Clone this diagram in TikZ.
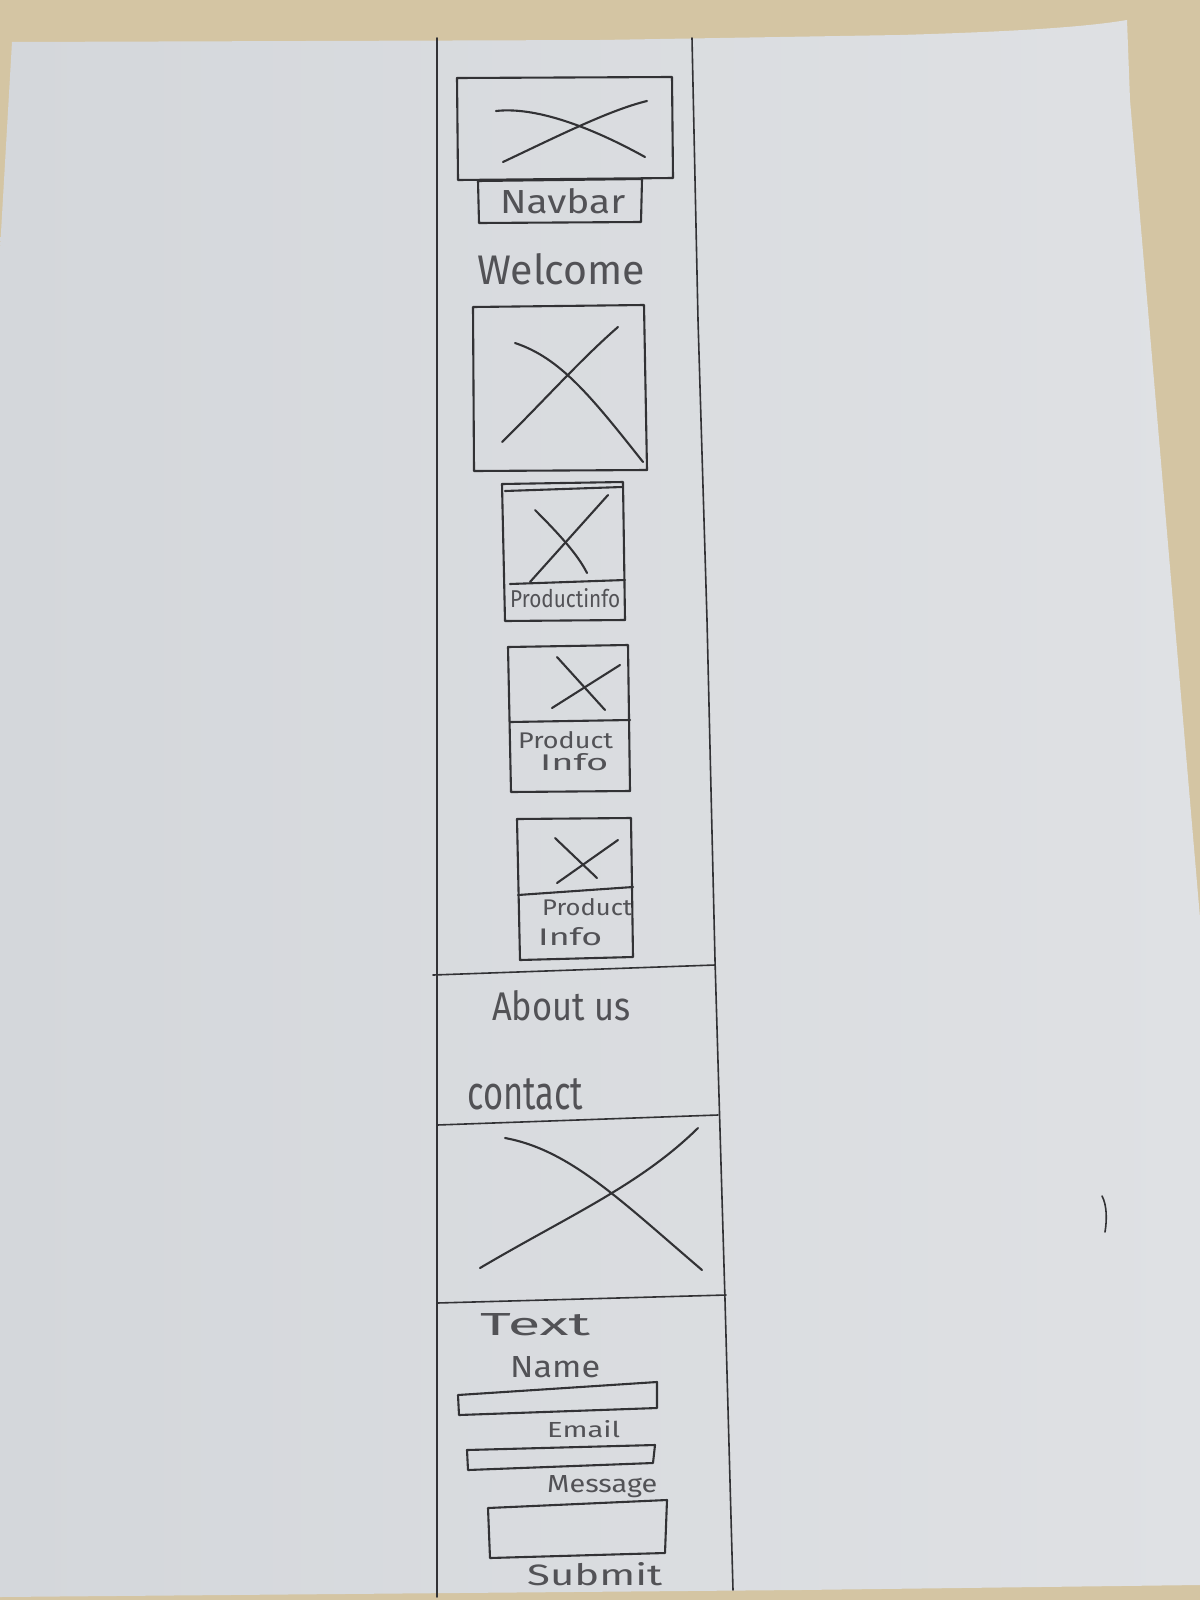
\documentclass[tikz,border=0pt]{standalone}
\usepackage{fontspec}
\setmainfont{Fira Sans}
\usepackage{graphicx}
\definecolor{tablec}{RGB}{212,197,163}
\definecolor{paperc}{RGB}{223,225,228}
\definecolor{paperd}{RGB}{212,215,219}
\definecolor{pencil}{RGB}{50,50,53}
\definecolor{ink}{RGB}{82,82,86}
% handwritten-like label: width, height above baseline, text
\newcommand{\hw}[3]{\resizebox{#1pt}{#2pt}{#3}}
\begin{document}
\begin{tikzpicture}[x=1pt,y=-1pt,
  sk/.style={draw=pencil,line width=2.1pt,line join=round,line cap=round},
  colline/.style={draw=pencil,line width=1.6pt,line join=round,line cap=round},
  lbl/.style={text=ink,inner sep=0pt,anchor=base west}]
\useasboundingbox (0,0) rectangle (1200,1600);
% table
\fill[tablec] (0,0) rectangle (1200,1600);
% paper sheet
\shade[left color=paperd,right color=paperc] (12,42) -- (600,40) -- (900,35) .. controls (1000,32) and (1080,28) .. (1127,20)
  -- (1130,100) -- (1200,918) -- (1200,1585) -- (800,1590) -- (0,1597) -- (0,250) -- cycle;
% column lines
\draw[colline] (437,38) -- (437,1597);
\draw[colline] (692,38) -- (698,320) -- (707,620) -- (715,960) -- (725,1300) -- (733,1590);
% section dividers
\draw[colline] (433,975) -- (715,965);
\draw[colline] (437,1125) -- (718,1115);
\draw[colline] (437,1303) -- (726,1295);
% banner image
\draw[sk] (457,78) -- (672,77) -- (673,178) -- (458,180) -- cycle;
\draw[sk] (496,111) .. controls (540,106) and (600,132) .. (645,157);
\draw[sk] (503,162) .. controls (560,135) and (610,110) .. (647,101);
% navbar
\draw[sk] (478,181) -- (642,179) -- (641,222) -- (479,223) -- cycle;
\node[lbl] (navbar) at (500,213) {\hw{125}{25}{Navbar}};
% welcome
\node[lbl] (welcome) at (477,284) {\hw{168}{31}{Welcome}};
% hero image
\draw[sk] (473,307) -- (644,305) -- (647,470) -- (474,471) -- cycle;
\draw[sk] (515,343) .. controls (560,358) and (590,395) .. (643,462);
\draw[sk] (502,442) .. controls (540,405) and (580,360) .. (618,327);
% product card 1
\draw[sk] (502,484) -- (623,482) -- (625,620) -- (505,621) -- cycle;
\draw[sk] (505,491) -- (622,487);
\draw[sk] (510,584) -- (625,580);
\draw[sk] (535,510) .. controls (560,535) and (578,555) .. (587,573);
\draw[sk] (530,582) -- (608,495);
\node[lbl] (info1) at (510,607) {\hw{110}{19}{Productinfo}};
% product card 2
\draw[sk] (508,647) -- (628,645) -- (630,791) -- (511,792) -- cycle;
\draw[sk] (510,722) -- (630,720);
\draw[sk] (557,657) -- (605,710);
\draw[sk] (552,708) -- (620,665);
\node[lbl] (info2a) at (518,748) {\hw{95}{17}{Product}};
\node[lbl] (info2b) at (540,770) {\hw{68}{17}{Info}};
% product card 3
\draw[sk] (517,819) -- (631,818) -- (633,957) -- (520,960) -- cycle;
\draw[sk] (518,895) -- (633,887);
\draw[sk] (555,838) -- (597,878);
\draw[sk] (557,883) -- (618,840);
\node[lbl] (info3a) at (542,915) {\hw{90}{17}{Product}};
\node[lbl] (info3b) at (538,945) {\hw{64}{18}{Info}};
% about / contact
\node[lbl] (about) at (492,1020) {\hw{138}{30}{About us}};
\node[lbl] (contact) at (467,1109) {\hw{116}{31}{contact}};
% contact image
\draw[sk] (505,1138) .. controls (570,1150) and (620,1200) .. (702,1270);
\draw[sk] (480,1268) .. controls (570,1215) and (640,1185) .. (698,1128);
% form
\node[lbl] (text) at (480,1335) {\hw{110}{22}{Text}};
\node[lbl] (name) at (510,1377) {\hw{90}{21}{Name}};
\draw[sk] (458,1395) -- (657,1382) -- (657,1408) -- (459,1415) -- cycle;
\node[lbl] (email) at (547,1437) {\hw{73}{17}{Email}};
\draw[sk] (467,1450) -- (655,1445) -- (653,1463) -- (468,1470) -- cycle;
\node[lbl] (message) at (547,1492) {\hw{110}{17}{Message}};
\draw[sk] (488,1508) -- (667,1500) -- (665,1553) -- (490,1558) -- cycle;
\node[lbl] (submit) at (527,1585) {\hw{135}{23}{Submit}};
% stray pencil mark
\draw[sk,line width=1.6pt] (1102,1196) .. controls (1107,1205) and (1107,1220) .. (1105,1232);
\end{tikzpicture}
\end{document}
